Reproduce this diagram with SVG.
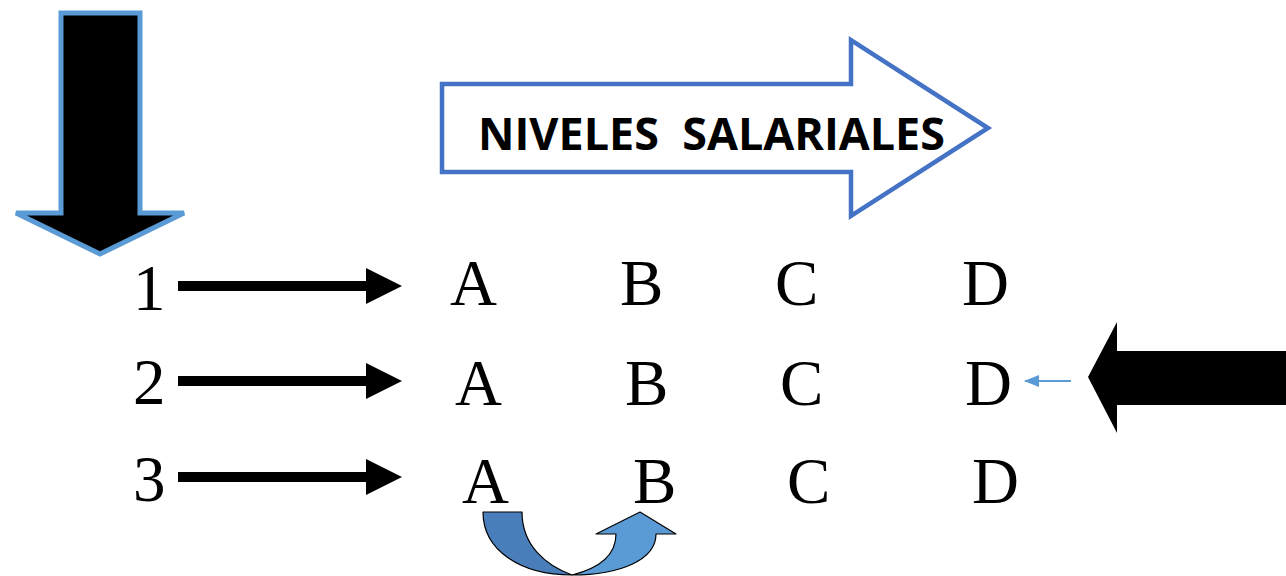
<svg xmlns="http://www.w3.org/2000/svg" width="1286" height="576" viewBox="0 0 1286 576">
<style>
.num{font-family:"Liberation Serif","Times New Roman",serif;font-size:65px;fill:#000}
.let{font-family:"Liberation Serif","Times New Roman",serif;font-size:65px;fill:#000}
.title{font-family:"Open Sans","Liberation Sans",Arial,sans-serif;font-weight:bold;font-size:44px;fill:#000;white-space:pre}
.rowarrow{fill:#000}
</style>
<defs>
<marker id="bluehead" markerWidth="16" markerHeight="14" refX="14" refY="6" orient="auto" markerUnits="userSpaceOnUse">
<path d="M0,0 L15,6 L0,12 Z" fill="#5B9BD5"/>
</marker>
</defs>
<rect width="1286" height="576" fill="#fff"/>
<g id="down-arrow">
<path d="M61,13 L140,13 L140,213 L184,213 L100,254 L16,213 L61,213 Z" fill="#000" stroke="#5B9BD5" stroke-width="5" stroke-linejoin="miter"/>
</g>
<g id="niveles-arrow">
<path d="M442,84 L851,84 L851,40 L988,128 L851,216 L851,172 L442,172 Z" fill="#fff" stroke="#4472C4" stroke-width="4.5"/>
<text class="title" x="478" y="150" xml:space="preserve" textLength="467" lengthAdjust="spacingAndGlyphs">NIVELES  SALARIALES</text>
</g>
<g id="left-arrow">
<path d="M1088,377 L1117,322 L1117,351 L1286,351 L1286,405 L1117,405 L1117,433 Z" fill="#000"/>
</g>
<g id="row1">
<text class="num" x="133" y="310">1</text>
<text class="let" x="450" y="305">A</text>
<text class="let" x="620" y="305">B</text>
<text class="let" x="775" y="305">C</text>
<text class="let" x="962" y="305">D</text>
</g>
<g id="row2">
<text class="num" x="133" y="404">2</text>
<text class="let" x="455" y="405">A</text>
<text class="let" x="625" y="405">B</text>
<text class="let" x="780" y="405">C</text>
<text class="let" x="965" y="405">D</text>
</g>
<g id="row3">
<text class="num" x="133" y="501">3</text>
<text class="let" x="462" y="503">A</text>
<text class="let" x="633" y="503">B</text>
<text class="let" x="787" y="503">C</text>
<text class="let" x="972" y="503">D</text>
</g>
<g id="connectors">
<path class="rowarrow" d="M178,281 L366,281 L366,268 L402,286 L366,304 L366,291 L178,291 Z"/>
<path class="rowarrow" d="M178,376 L366,376 L366,363 L402,381 L366,399 L366,386 L178,386 Z"/>
<path class="rowarrow" d="M178,472 L366,472 L366,459 L402,477 L366,495 L366,482 L178,482 Z"/>
<line x1="1071" y1="381" x2="1025" y2="381" stroke="#5B9BD5" stroke-width="2" marker-end="url(#bluehead)"/>
<g id="curved-arrow" stroke="#000" stroke-width="1.2" stroke-linejoin="round">
<path d="M483,512 L522,512 C522,545 545,565 572,575 C520,575 483,550 483,512 Z" fill="#4A7EBB"/>
<path d="M572,575 C620,575 656,560 656,534 L676,534 L640,512 L596,534 L616,534 C616,555 600,568 572,575 Z" fill="#5B9BD5"/>
</g>
</g>
</svg>
